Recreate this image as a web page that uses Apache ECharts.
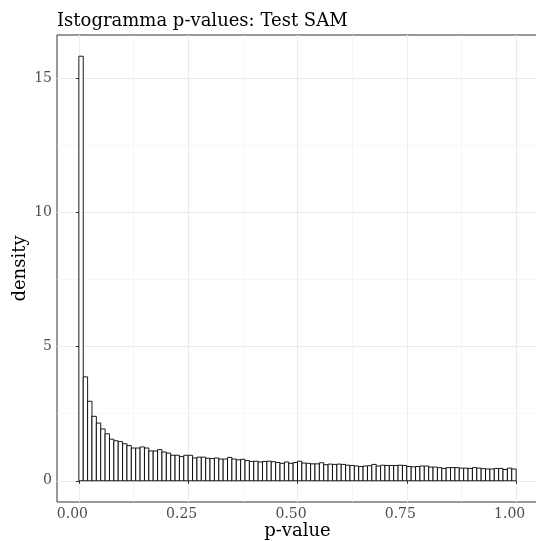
<!DOCTYPE html>
<html><head><meta charset="utf-8">
<script src="https://cdn.jsdelivr.net/npm/echarts@6/dist/echarts.min.js"></script>
<style>html,body{margin:0;padding:0;background:#fff}#c{width:536px;height:541px}</style>
</head><body><div id="c"></div>
<script>
const binWidth = 0.01;
const density = [
 15.81,3.87,2.96,2.40,2.15,1.93,1.75,1.55,1.49,1.46,
 1.38,1.31,1.22,1.22,1.26,1.22,1.11,1.11,1.16,1.07,
 1.03,0.95,0.95,0.90,0.95,0.95,0.85,0.88,0.88,0.84,
 0.83,0.85,0.81,0.81,0.87,0.81,0.78,0.80,0.75,0.72,
 0.73,0.70,0.72,0.73,0.71,0.68,0.65,0.70,0.65,0.68,
 0.73,0.66,0.65,0.63,0.63,0.67,0.60,0.62,0.61,0.62,
 0.61,0.58,0.57,0.55,0.53,0.55,0.56,0.61,0.55,0.58,
 0.57,0.57,0.57,0.58,0.57,0.53,0.52,0.53,0.55,0.55,
 0.51,0.51,0.49,0.46,0.49,0.49,0.49,0.47,0.47,0.46,
 0.49,0.47,0.45,0.44,0.44,0.46,0.46,0.42,0.47,0.44
];
const xTicks = [0, 0.25, 0.5, 0.75, 1];
const xMinor = [0.125, 0.375, 0.625, 0.875];
const yTicks = [0, 5, 10, 15];
const yMinor = [2.5, 7.5, 12.5];

const data = density.map((d, i) => [i * binWidth, (i + 1) * binWidth, d]);
const font = 'DejaVu Serif';
const chart = echarts.init(document.getElementById('c'), null, {renderer: 'canvas'});
const xRange = [-0.05, 1.05];
const yRange = [-0.7905, 16.6];
chart.setOption({
  animation: false,
  title: {text: 'Istogramma p-values: Test SAM', left: 57, top: 12, padding: 0,
    textStyle: {fontFamily: font, fontSize: 18, fontWeight: 'normal', color: '#000'}},
  grid: {left: 57, top: 35, width: 481, height: 467, show: true, borderColor: '#333333', borderWidth: 1,
    backgroundColor: 'transparent', containLabel: false, outerBoundsMode: 'none'},
  xAxis: [
    {type: 'value', min: xRange[0], max: xRange[1], name: 'p-value', nameLocation: 'middle', nameGap: 20,
     nameMoveOverlap: false,
     nameTextStyle: {fontFamily: font, fontSize: 18, color: '#000'},
     axisLine: {show: false},
     axisTick: {show: true, length: 3, customValues: xTicks, lineStyle: {color: '#333333'}},
     axisLabel: {customValues: xTicks, margin: 5, padding: [0, 13, 0, 0], fontFamily: font, fontSize: 14, color: '#4D4D4D', formatter: v => v.toFixed(2)},
     splitLine: {show: true, lineStyle: {color: '#EBEBEB', width: 1.1}}},
    {type: 'value', min: xRange[0], max: xRange[1], position: 'bottom',
     axisLine: {show: false}, axisLabel: {show: false},
     axisTick: {show: false, customValues: xMinor},
     splitLine: {show: true, lineStyle: {color: '#F2F2F2', width: 0.6}}}
  ],
  yAxis: [
    {type: 'value', min: yRange[0], max: yRange[1], name: 'density', nameLocation: 'middle', nameGap: 28,
     nameMoveOverlap: false,
     nameTextStyle: {fontFamily: font, fontSize: 18, color: '#000'},
     axisLine: {show: false},
     axisTick: {show: true, length: 3, customValues: yTicks, lineStyle: {color: '#333333'}},
     axisLabel: {customValues: yTicks, margin: 5, fontFamily: font, fontSize: 14, color: '#4D4D4D'},
     splitLine: {show: true, lineStyle: {color: '#EBEBEB', width: 1.1}}},
    {type: 'value', min: yRange[0], max: yRange[1], position: 'left',
     axisLine: {show: false}, axisLabel: {show: false},
     axisTick: {show: false, customValues: yMinor},
     splitLine: {show: true, lineStyle: {color: '#F2F2F2', width: 0.6}}}
  ],
  series: [{
    type: 'custom', xAxisIndex: 0, yAxisIndex: 0,
    renderItem: (params, api) => {
      const p0 = api.coord([api.value(0), 0]);
      const p1 = api.coord([api.value(1), api.value(2)]);
      return {type: 'rect', shape: {x: p0[0], y: p1[1], width: p1[0] - p0[0], height: p0[1] - p1[1]},
        style: {fill: '#ffffff', stroke: '#000000', lineWidth: 0.9}};
    },
    encode: {x: [0, 1], y: 2},
    data: data
  }]
});
</script></body></html>
